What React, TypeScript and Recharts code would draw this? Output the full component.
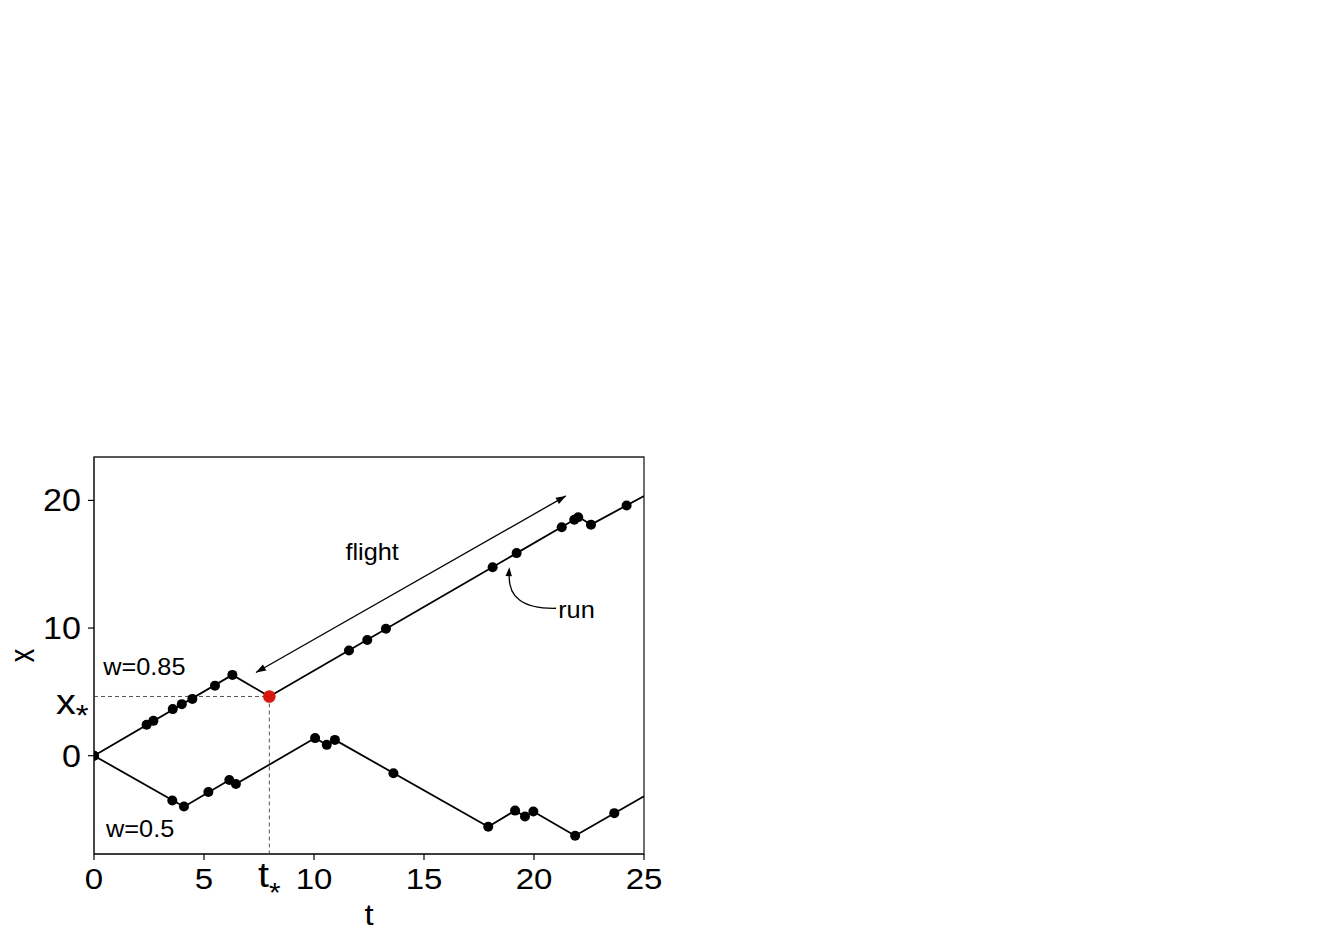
import React from 'react';
import { ComposedChart, Line, Scatter, XAxis, YAxis, ReferenceLine, ReferenceArea, ReferenceDot } from 'recharts';

// random walks: vertices of each path (t, x)
const upperPath = [
  { t: 0, x: 0 }, { t: 6.29, x: 6.33 }, { t: 7.97, x: 4.64 },
  { t: 22.04, x: 18.7 }, { t: 22.59, x: 18.1 }, { t: 25, x: 20.35 },
];
const lowerPath = [
  { t: 0, x: 0 }, { t: 4.09, x: -4.0 }, { t: 6.15, x: -1.9 }, { t: 6.45, x: -2.22 },
  { t: 10.05, x: 1.38 }, { t: 10.58, x: 0.85 }, { t: 10.95, x: 1.24 },
  { t: 17.92, x: -5.57 }, { t: 19.14, x: -4.3 }, { t: 19.59, x: -4.76 },
  { t: 19.97, x: -4.37 }, { t: 21.87, x: -6.27 }, { t: 25, x: -3.17 },
];

// turning events (dots)
const upperDots = [
  { t: 0, x: 0 }, { t: 2.39, x: 2.42 }, { t: 2.7, x: 2.73 }, { t: 3.58, x: 3.65 },
  { t: 3.99, x: 4.04 }, { t: 4.47, x: 4.45 }, { t: 5.5, x: 5.49 }, { t: 6.29, x: 6.33 },
  { t: 11.59, x: 8.24 }, { t: 12.42, x: 9.07 }, { t: 13.27, x: 9.94 },
  { t: 18.12, x: 14.76 }, { t: 19.21, x: 15.87 }, { t: 21.26, x: 17.9 },
  { t: 21.83, x: 18.48 }, { t: 22.01, x: 18.68 }, { t: 22.59, x: 18.1 }, { t: 24.21, x: 19.6 },
];
const lowerDots = [
  { t: 0, x: 0 }, { t: 3.56, x: -3.51 }, { t: 4.09, x: -3.98 }, { t: 5.2, x: -2.85 },
  { t: 6.15, x: -1.9 }, { t: 6.45, x: -2.22 }, { t: 10.05, x: 1.38 }, { t: 10.58, x: 0.85 },
  { t: 10.95, x: 1.24 }, { t: 13.61, x: -1.37 }, { t: 17.92, x: -5.57 }, { t: 19.14, x: -4.3 },
  { t: 19.59, x: -4.76 }, { t: 19.97, x: -4.37 }, { t: 21.87, x: -6.27 }, { t: 23.65, x: -4.5 },
];

const T_STAR = 7.97;
const X_STAR = 4.64;
const starPoint = [{ t: T_STAR, x: X_STAR }];

const xDomain: [number, number] = [0, 25];
const yDomain: [number, number] = [-7.7, 23.4];
const xTicks = [0, 5, T_STAR, 10, 15, 20, 25];
const yTicks = [0, X_STAR, 10, 20];

const flightArrow = [{ t: 7.36, x: 6.52 }, { t: 21.45, x: 20.35 }];
const runArrow = [{ t: 21.0, x: 11.55 }, { t: 18.88, x: 14.77 }];

const FONT = '"Liberation Sans", Arial, Helvetica, sans-serif';
const STRETCH = 1.1;

function head(tx: number, ty: number, fx: number, fy: number, len = 10, half = 3.5) {
  const dx = tx - fx;
  const dy = ty - fy;
  const d = Math.hypot(dx, dy) || 1;
  const ux = dx / d;
  const uy = dy / d;
  const bx = tx - ux * len;
  const by = ty - uy * len;
  return `${tx},${ty} ${bx - uy * half},${by + ux * half} ${bx + uy * half},${by - ux * half}`;
}

// text widened a little, the figure's glyphs are broader than Liberation Sans
const WideText = ({ x, y, size, anchor = 'start', rotate = 0, children }: any) => (
  <g transform={`translate(${x},${y}) rotate(${rotate}) scale(${STRETCH},1)`}>
    <text x={0} y={0} textAnchor={anchor} fontFamily={FONT} fontSize={size} fill="#000">
      {children}
    </text>
  </g>
);

const XTick = (props: any) => {
  const { x, y, payload } = props;
  const v = payload.value;
  if (Math.abs(v - T_STAR) < 1e-6) {
    return (
      <WideText x={x} y={y + 33} size={36} anchor="middle">
        t<tspan fontSize={27} dy={15}>*</tspan>
      </WideText>
    );
  }
  return (
    <g>
      <line x1={x} y1={y} x2={x} y2={y + 6} stroke="#000" strokeWidth={1.2} />
      <WideText x={x} y={y + 35} size={30} anchor="middle">{v}</WideText>
    </g>
  );
};

const YTick = (props: any) => {
  const { x, y, payload } = props;
  const v = payload.value;
  if (Math.abs(v - X_STAR) < 1e-6) {
    return (
      <WideText x={x - 38} y={y + 18} size={36} anchor="start">
        x<tspan fontSize={30} dy={11}>*</tspan>
      </WideText>
    );
  }
  return (
    <g>
      <line x1={x - 6} y1={y} x2={x} y2={y} stroke="#000" strokeWidth={1.2} />
      <WideText x={x - 13} y={y + 11} size={31} anchor="end">{v}</WideText>
    </g>
  );
};

const note = (label: string, anchor: 'start' | 'middle') => (p: any) => (
  <WideText x={p.cx} y={p.cy} size={23} anchor={anchor}>{label}</WideText>
);

export default function App() {
  return (
    <div style={{ position: 'absolute', left: 0, top: 0, background: '#fff' }}>
      <ComposedChart width={1329} height={940} margin={{ top: 457, right: 685, bottom: 14, left: 4 }}>
        <XAxis
          dataKey="t"
          type="number"
          domain={xDomain}
          ticks={xTicks}
          interval={0}
          tickLine={false}
          tickSize={0}
          tickMargin={0}
          tick={<XTick />}
          height={72}
          stroke="#222"
          allowDataOverflow
          label={{
            content: (p: any) => (
              <WideText x={p.viewBox.x + p.viewBox.width / 2} y={p.viewBox.y + 71} size={30} anchor="middle">t</WideText>
            ),
          }}
        />
        <YAxis
          dataKey="x"
          type="number"
          domain={yDomain}
          ticks={yTicks}
          interval={0}
          tickLine={false}
          tickSize={0}
          tickMargin={0}
          tick={<YTick />}
          width={90}
          stroke="#222"
          allowDataOverflow
          label={{
            content: (p: any) => {
              const cy = p.viewBox.y + p.viewBox.height / 2;
              return (
                <g transform={`translate(22,${cy}) rotate(-90) scale(1,1.3)`}>
                  <text x={0} y={0} textAnchor="middle" dominantBaseline="central"
                    fontFamily={FONT} fontSize={27} fill="#000">x</text>
                </g>
              );
            },
          }}
        />
        <ReferenceArea x1={xDomain[0]} x2={xDomain[1]} y1={yDomain[0]} y2={yDomain[1]}
          fill="none" stroke="#222" strokeWidth={1.3} />
        <ReferenceLine segment={[{ x: 0, y: X_STAR }, { x: T_STAR, y: X_STAR }]}
          stroke="#555" strokeDasharray="4 3" strokeWidth={1} />
        <ReferenceLine segment={[{ x: T_STAR, y: X_STAR }, { x: T_STAR, y: yDomain[0] }]}
          stroke="#555" strokeDasharray="4 3" strokeWidth={1} />
        <Line data={upperPath} dataKey="x" type="linear" stroke="#000" strokeWidth={1.8}
          dot={false} activeDot={false} isAnimationActive={false} />
        <Line data={lowerPath} dataKey="x" type="linear" stroke="#000" strokeWidth={1.8}
          dot={false} activeDot={false} isAnimationActive={false} />
        <Scatter data={upperDots} fill="#000" isAnimationActive={false}
          shape={(p: any) => <circle cx={p.cx} cy={p.cy} r={5} fill="#000" />} />
        <Scatter data={lowerDots} fill="#000" isAnimationActive={false}
          shape={(p: any) => <circle cx={p.cx} cy={p.cy} r={5} fill="#000" />} />
        <Scatter data={starPoint} fill="#d7190e" isAnimationActive={false}
          shape={(p: any) => <circle cx={p.cx} cy={p.cy} r={6.3} fill="#d7190e" />} />
        <ReferenceLine
          segment={[{ x: flightArrow[0].t, y: flightArrow[0].x }, { x: flightArrow[1].t, y: flightArrow[1].x }]}
          shape={(p: any) => (
            <g>
              <line x1={p.x1} y1={p.y1} x2={p.x2} y2={p.y2} stroke="#000" strokeWidth={1.3} />
              <polygon points={head(p.x1, p.y1, p.x2, p.y2)} fill="#000" />
              <polygon points={head(p.x2, p.y2, p.x1, p.y1)} fill="#000" />
            </g>
          )}
        />
        <ReferenceLine
          segment={[{ x: runArrow[0].t, y: runArrow[0].x }, { x: runArrow[1].t, y: runArrow[1].x }]}
          shape={(p: any) => {
            const cx = p.x2 - 3;
            const cy = p.y1 + 1;
            return (
              <g>
                <path d={`M${p.x1},${p.y1} Q${cx},${cy} ${p.x2},${p.y2 + 6}`} fill="none" stroke="#000" strokeWidth={1.3} />
                <polygon points={head(p.x2, p.y2, cx, cy, 9, 3.2)} fill="#000" />
              </g>
            );
          }}
        />
        <ReferenceDot x={12.64} y={15.3} r={0} shape={note('flight', 'middle')} />
        <ReferenceDot x={21.1} y={10.8} r={0} shape={note('run', 'start')} />
        <ReferenceDot x={0.42} y={6.35} r={0} shape={note('w=0.85', 'start')} />
        <ReferenceDot x={0.55} y={-6.33} r={0} shape={note('w=0.5', 'start')} />
      </ComposedChart>
    </div>
  );
}
